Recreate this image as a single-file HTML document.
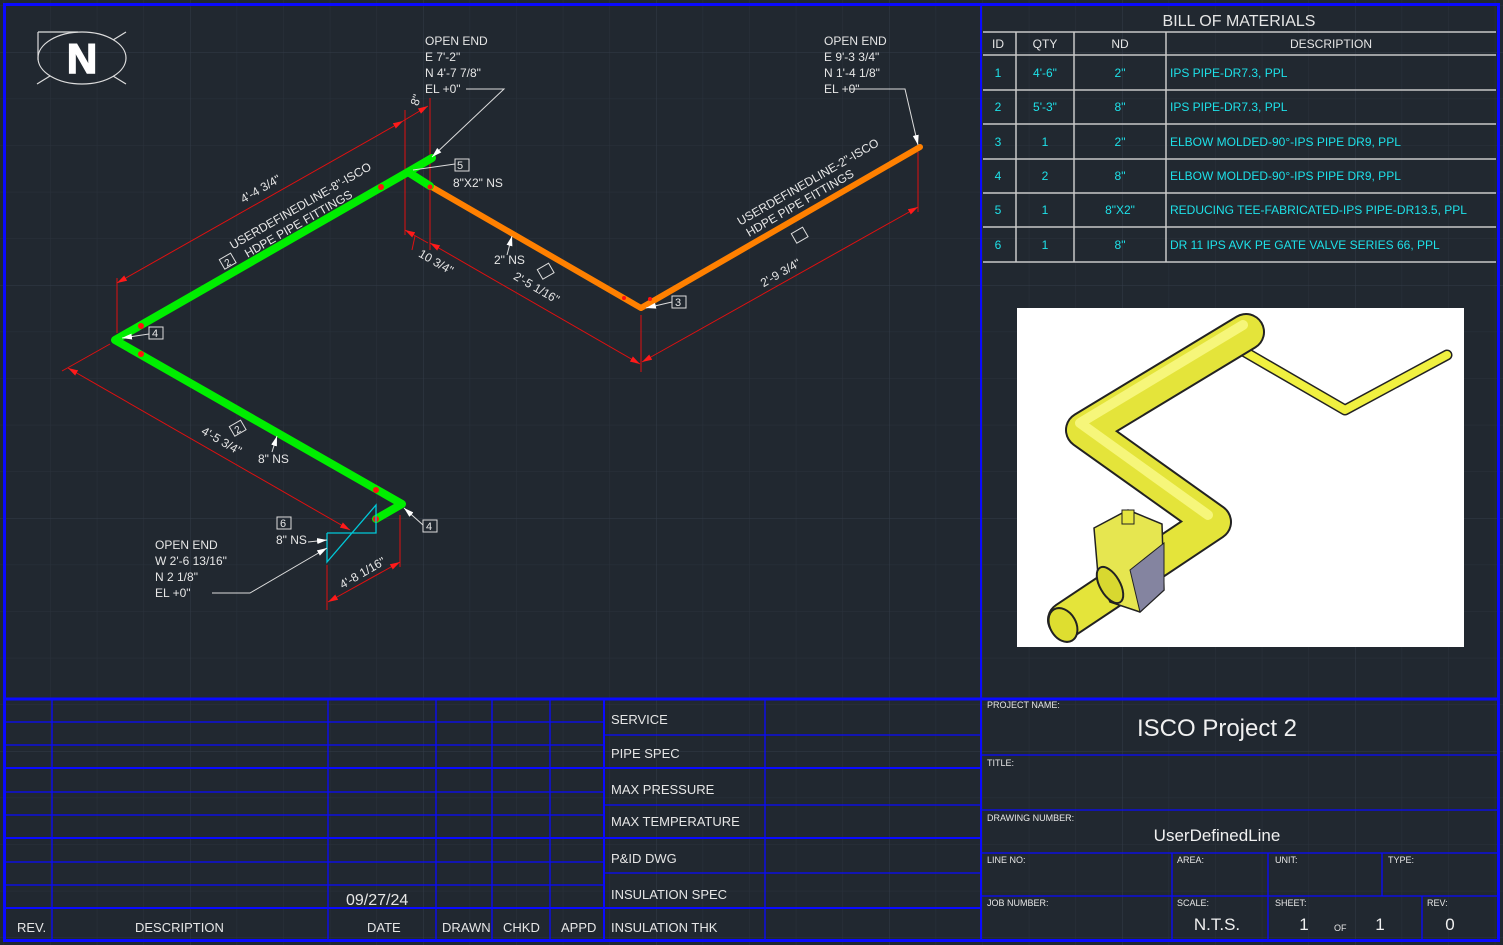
<!DOCTYPE html>
<html><head><meta charset="utf-8"><style>
html,body{margin:0;padding:0;background:#212830;}
svg{display:block;}
text{font-family:"Liberation Sans Narrow","Liberation Sans",sans-serif;}
</style></head><body>
<svg width="1503" height="945" viewBox="0 0 1503 945" xmlns="http://www.w3.org/2000/svg">
<defs>
<pattern id="gmin" width="46.6" height="46.6" patternUnits="userSpaceOnUse" x="-43" y="52">
<path d="M0 0H46.6M0 0V46.6" stroke="#2a323c" stroke-width="1" fill="none"/></pattern>
<pattern id="gmaj" width="233" height="233" patternUnits="userSpaceOnUse" x="-43" y="52">
<path d="M0 0H233M0 0V233" stroke="#333c48" stroke-width="1" fill="none"/></pattern>
<marker id="ar" viewBox="0 0 10 6" refX="10" refY="3" markerWidth="10" markerHeight="6" orient="auto-start-reverse" markerUnits="userSpaceOnUse"><path d="M0 0L10 3L0 6z" fill="#ff1a1a"/></marker>
<marker id="aw" viewBox="0 0 10 6" refX="10" refY="3" markerWidth="10" markerHeight="6" orient="auto" markerUnits="userSpaceOnUse"><path d="M0 0L10 3L0 6z" fill="#fff"/></marker>
</defs>
<rect width="1503" height="945" fill="#212830"/>
<rect width="1503" height="945" fill="url(#gmin)"/>
<rect width="1503" height="945" fill="url(#gmaj)"/>

<g stroke="#0a0aff" fill="none">
<rect x="4.5" y="4.5" width="1494" height="936" stroke-width="3"/>
<line x1="981" y1="5" x2="981" y2="940" stroke-width="2"/>
<line x1="5" y1="699" x2="1498" y2="699" stroke-width="3"/>
</g>

<g stroke="#ddd" fill="none" stroke-width="1.2">
<ellipse cx="82" cy="58" rx="44" ry="26"/>
<path d="M38 32H78M38 32V60M37 84L50 76M126 84L113 76M126 32L113 40"/>
</g>
<text x="82" y="73" font-size="42" font-weight="bold" fill="#fff" text-anchor="middle" font-family="Liberation Sans,sans-serif" stroke="#fff" stroke-width="1.5">N</text>

<g stroke="#e01010" stroke-width="1" fill="none">
<line x1="117" y1="278" x2="117" y2="333"/>
<line x1="405" y1="110" x2="405" y2="235"/>
<line x1="430" y1="98" x2="430" y2="250"/>
<line x1="117" y1="283" x2="403" y2="121" marker-start="url(#ar)" marker-end="url(#ar)"/>
<line x1="403" y1="121" x2="428" y2="106" marker-end="url(#ar)"/>
<line x1="405" y1="230" x2="428" y2="243" marker-start="url(#ar)"/>
<line x1="415" y1="236" x2="412" y2="250"/>
<line x1="430" y1="243" x2="640" y2="364" marker-start="url(#ar)" marker-end="url(#ar)"/>
<line x1="641" y1="315" x2="641" y2="372"/>
<line x1="642" y1="362" x2="918" y2="207" marker-start="url(#ar)" marker-end="url(#ar)"/>
<line x1="918" y1="152" x2="918" y2="212"/>
<line x1="110" y1="344" x2="62" y2="371"/>
<line x1="68" y1="368" x2="350" y2="530" marker-start="url(#ar)" marker-end="url(#ar)"/>
<line x1="327" y1="565" x2="327" y2="610"/>
<line x1="400" y1="515" x2="400" y2="567"/>
<line x1="328" y1="602" x2="400" y2="562" marker-start="url(#ar)" marker-end="url(#ar)"/>
</g>

<g fill="none" stroke-linecap="round" stroke-linejoin="round">
<polyline points="430,186 641,308 920,147" stroke="#ff8000" stroke-width="6"/>
<polyline points="432,158 408,172 115,340 402,504 376,519" stroke="#00ee00" stroke-width="8"/>
<line x1="408" y1="172" x2="430" y2="186" stroke="#00ee00" stroke-width="8"/>
</g>
<g fill="#ff1010">
<circle cx="141" cy="326" r="3"/><circle cx="141" cy="354" r="3"/><circle cx="381" cy="187" r="3"/>
<circle cx="430" cy="187" r="2.5"/><circle cx="376" cy="490" r="3"/><circle cx="376" cy="519" r="3"/>
<circle cx="624" cy="298" r="2"/><circle cx="650" cy="299" r="2"/>
</g>
<polyline points="327,533 376,533 376,505 327,562 327,533" fill="none" stroke="#00c8d8" stroke-width="1.3"/>

<g stroke="#ddd" stroke-width="1" fill="none">
<polyline points="466,89 504,89 432,157" marker-end="url(#aw)"/>
<line x1="413" y1="170" x2="455" y2="164"/>
<polyline points="850,89 905,89 918,145" marker-end="url(#aw)"/>
<line x1="149" y1="334" x2="122" y2="338" marker-end="url(#aw)"/>
<line x1="672" y1="302" x2="646" y2="308" marker-end="url(#aw)"/>
<line x1="507" y1="255" x2="512" y2="236" marker-end="url(#aw)"/>
<line x1="272" y1="452" x2="277" y2="436" marker-end="url(#aw)"/>
<line x1="423" y1="525" x2="404" y2="508" marker-end="url(#aw)"/>
<line x1="308" y1="542" x2="327" y2="540" marker-end="url(#aw)"/>
<polyline points="212,593 250,593 327,548" marker-end="url(#aw)"/>
<rect x="455" y="159" width="14" height="12"/>
<rect x="149" y="327" width="14" height="12"/>
<rect x="672" y="296" width="14" height="12"/>
<rect x="423" y="520" width="14" height="12"/>
<rect x="277" y="517" width="14" height="12"/>
<rect x="221" y="256" width="13" height="11" transform="rotate(-30 227 261)"/>
<rect x="231" y="423" width="13" height="11" transform="rotate(-30 237 428)"/>
<rect x="539" y="266" width="13" height="11" transform="rotate(-30 545 271)"/>
<rect x="793" y="230" width="13" height="11" transform="rotate(-30 799 235)"/>
</g>

<g fill="#e6e6e6" font-size="12">
<text x="457" y="169" font-size="11">5</text>
<text x="152" y="337" font-size="11">4</text>
<text x="675" y="306" font-size="11">3</text>
<text x="426" y="530" font-size="11">4</text>
<text x="280" y="527" font-size="11">6</text>
<text x="224" y="266" font-size="10" transform="rotate(-30 227 261)">2</text>
<text x="234" y="433" font-size="10" transform="rotate(-30 237 428)">2</text>

<text x="425" y="45">OPEN END</text><text x="425" y="61">E 7'-2"</text><text x="425" y="77">N 4'-7 7/8"</text><text x="425" y="93">EL +0"</text>
<text x="824" y="45">OPEN END</text><text x="824" y="61">E 9'-3 3/4"</text><text x="824" y="77">N 1'-4 1/8"</text><text x="824" y="93">EL +0"</text>
<text x="155" y="549">OPEN END</text><text x="155" y="565">W 2'-6 13/16"</text><text x="155" y="581">N 2 1/8"</text><text x="155" y="597">EL +0"</text>
<text x="453" y="187">8"X2" NS</text>
<text x="494" y="264">2" NS</text>
<text x="258" y="463">8" NS</text>
<text x="276" y="544">8" NS</text>
<text x="300" y="210" text-anchor="middle" transform="rotate(-30 300 205)">USERDEFINEDLINE-8"-ISCO</text>
<text x="298" y="228" text-anchor="middle" transform="rotate(-30 298 223)">HDPE PIPE FITTINGS</text>
<text x="260" y="193" text-anchor="middle" transform="rotate(-30 260 188)">4'-4 3/4"</text>
<text x="416" y="104" text-anchor="middle" transform="rotate(-70 416 100)">8"</text>
<text x="436" y="266" text-anchor="middle" transform="rotate(30 436 262)">10 3/4"</text>
<text x="537" y="292" text-anchor="middle" transform="rotate(30 537 287)">2'-5 1/16"</text>
<text x="808" y="186" text-anchor="middle" transform="rotate(-30 808 182)">USERDEFINEDLINE-2"-ISCO</text>
<text x="800" y="207" text-anchor="middle" transform="rotate(-30 800 203)">HDPE PIPE FITTINGS</text>
<text x="780" y="277" text-anchor="middle" transform="rotate(-30 780 272)">2'-9 3/4"</text>
<text x="222" y="445" text-anchor="middle" transform="rotate(30 222 440)">4'-5 3/4"</text>
<text x="362" y="577" text-anchor="middle" transform="rotate(-30 362 572)">4'-8 1/16"</text>
</g>

<g stroke="#c8c8c8" stroke-width="1.5" fill="none">
<line x1="983" y1="32" x2="1496" y2="32"/>
<line x1="983" y1="55" x2="1496" y2="55"/>
<line x1="983" y1="90" x2="1496" y2="90"/>
<line x1="983" y1="124" x2="1496" y2="124"/>
<line x1="983" y1="159" x2="1496" y2="159"/>
<line x1="983" y1="193" x2="1496" y2="193"/>
<line x1="983" y1="227" x2="1496" y2="227"/>
<line x1="983" y1="262" x2="1496" y2="262"/>
<line x1="1016" y1="32" x2="1016" y2="262"/>
<line x1="1074" y1="32" x2="1074" y2="262"/>
<line x1="1166" y1="32" x2="1166" y2="262"/>
</g>
<g font-size="12" fill="#e6e6e6" text-anchor="middle">
<text x="1239" y="26" font-size="16">BILL OF MATERIALS</text>
<text x="998" y="48">ID</text><text x="1045" y="48">QTY</text><text x="1120" y="48">ND</text><text x="1331" y="48">DESCRIPTION</text>
</g>
<g font-size="12" fill="#1ee0e8">
<g text-anchor="middle">
<text x="998" y="77">1</text><text x="1045" y="77">4'-6"</text><text x="1120" y="77">2"</text>
<text x="998" y="111">2</text><text x="1045" y="111">5'-3"</text><text x="1120" y="111">8"</text>
<text x="998" y="146">3</text><text x="1045" y="146">1</text><text x="1120" y="146">2"</text>
<text x="998" y="180">4</text><text x="1045" y="180">2</text><text x="1120" y="180">8"</text>
<text x="998" y="214">5</text><text x="1045" y="214">1</text><text x="1120" y="214">8"X2"</text>
<text x="998" y="249">6</text><text x="1045" y="249">1</text><text x="1120" y="249">8"</text>
</g>
<text x="1170" y="77">IPS PIPE-DR7.3, PPL</text>
<text x="1170" y="111">IPS PIPE-DR7.3, PPL</text>
<text x="1170" y="146">ELBOW MOLDED-90°-IPS PIPE DR9, PPL</text>
<text x="1170" y="180">ELBOW MOLDED-90°-IPS PIPE DR9, PPL</text>
<text x="1170" y="214">REDUCING TEE-FABRICATED-IPS PIPE-DR13.5, PPL</text>
<text x="1170" y="249">DR 11 IPS AVK PE GATE VALVE SERIES 66, PPL</text>
</g>

<rect x="1017" y="308" width="447" height="339" fill="#fff"/>
<g fill="none" stroke-linecap="round" stroke-linejoin="round">
<polyline points="1245,352 1345,410 1447,355" stroke="#222" stroke-width="11"/>
<polyline points="1245,352 1345,410 1447,355" stroke="#f0f040" stroke-width="8"/>
<polyline points="1246,332 1084,430 1213,522 1066,620" stroke="#222" stroke-width="38"/>
<polyline points="1246,332 1084,430 1213,522 1066,620" stroke="#e4e43a" stroke-width="34"/>
<polyline points="1243,325 1080,423 1208,515" stroke="#f6f67a" stroke-width="10"/>
</g>
<ellipse cx="1063" cy="625" rx="13" ry="18" fill="#dede30" stroke="#222" stroke-width="2" transform="rotate(-30 1063 625)"/>
<polygon points="1094,528 1128,510 1162,524 1164,590 1140,612 1110,602 1098,575" fill="#e6e650" stroke="#222" stroke-width="1.5"/>
<polygon points="1130,570 1164,543 1164,590 1140,612" fill="#8484a0" stroke="#222" stroke-width="1"/>
<rect x="1122" y="510" width="12" height="14" fill="#e6e640" stroke="#222"/>
<ellipse cx="1110" cy="585" rx="10" ry="20" fill="#d8d830" stroke="#222" stroke-width="2" transform="rotate(-30 1110 585)"/>

<g stroke="#0a0aff" stroke-width="1.3" fill="none">
<line x1="5" y1="722" x2="604" y2="722"/><line x1="5" y1="745" x2="604" y2="745"/>
<line x1="5" y1="768" x2="980" y2="768" stroke-width="2"/>
<line x1="5" y1="792" x2="604" y2="792"/><line x1="5" y1="815" x2="604" y2="815"/>
<line x1="5" y1="838" x2="980" y2="838" stroke-width="2"/>
<line x1="5" y1="862" x2="604" y2="862"/><line x1="5" y1="885" x2="604" y2="885"/>
<line x1="5" y1="908" x2="980" y2="908" stroke-width="2"/>
<line x1="604" y1="735" x2="980" y2="735"/><line x1="604" y1="805" x2="980" y2="805"/><line x1="604" y1="873" x2="980" y2="873"/>
<line x1="52" y1="699" x2="52" y2="940"/><line x1="328" y1="699" x2="328" y2="940"/>
<line x1="436" y1="699" x2="436" y2="940"/><line x1="492" y1="699" x2="492" y2="940"/>
<line x1="550" y1="699" x2="550" y2="940"/>
<line x1="604" y1="699" x2="604" y2="940" stroke-width="2"/>
<line x1="765" y1="699" x2="765" y2="940"/>
<line x1="981" y1="755" x2="1498" y2="755"/><line x1="981" y1="810" x2="1498" y2="810"/>
<line x1="981" y1="853" x2="1498" y2="853"/><line x1="981" y1="896" x2="1498" y2="896"/>
<line x1="1172" y1="853" x2="1172" y2="940"/><line x1="1268" y1="853" x2="1268" y2="940"/>
<line x1="1382" y1="853" x2="1382" y2="896"/><line x1="1422" y1="896" x2="1422" y2="940"/>
</g>
<g fill="#e6e6e6" font-size="13">
<text x="17" y="932">REV.</text>
<text x="135" y="932">DESCRIPTION</text>
<text x="367" y="932">DATE</text>
<text x="442" y="932">DRAWN</text>
<text x="503" y="932">CHKD</text>
<text x="561" y="932">APPD</text>
<text x="346" y="905" font-size="16" font-family="Liberation Sans,sans-serif">09/27/24</text>
<text x="611" y="724">SERVICE</text>
<text x="611" y="758">PIPE SPEC</text>
<text x="611" y="794">MAX PRESSURE</text>
<text x="611" y="826">MAX TEMPERATURE</text>
<text x="611" y="863">P&amp;ID DWG</text>
<text x="611" y="899">INSULATION SPEC</text>
<text x="611" y="932">INSULATION THK</text>
</g>
<g fill="#e6e6e6" font-size="9">
<text x="987" y="708">PROJECT NAME:</text>
<text x="987" y="766">TITLE:</text>
<text x="987" y="821">DRAWING NUMBER:</text>
<text x="987" y="863">LINE NO:</text>
<text x="1177" y="863">AREA:</text>
<text x="1275" y="863">UNIT:</text>
<text x="1388" y="863">TYPE:</text>
<text x="987" y="906">JOB NUMBER:</text>
<text x="1177" y="906">SCALE:</text>
<text x="1275" y="906">SHEET:</text>
<text x="1427" y="906">REV:</text>
<text x="1334" y="931">OF</text>
</g>
<g fill="#f0f0f0" font-family="Liberation Sans,sans-serif" text-anchor="middle">
<text x="1217" y="736" font-size="24">ISCO Project 2</text>
<text x="1217" y="841" font-size="17">UserDefinedLine</text>
<text x="1217" y="930" font-size="17">N.T.S.</text>
<text x="1304" y="930" font-size="17">1</text>
<text x="1380" y="930" font-size="17">1</text>
<text x="1450" y="930" font-size="17">0</text>
</g>
</svg>
</body></html>
